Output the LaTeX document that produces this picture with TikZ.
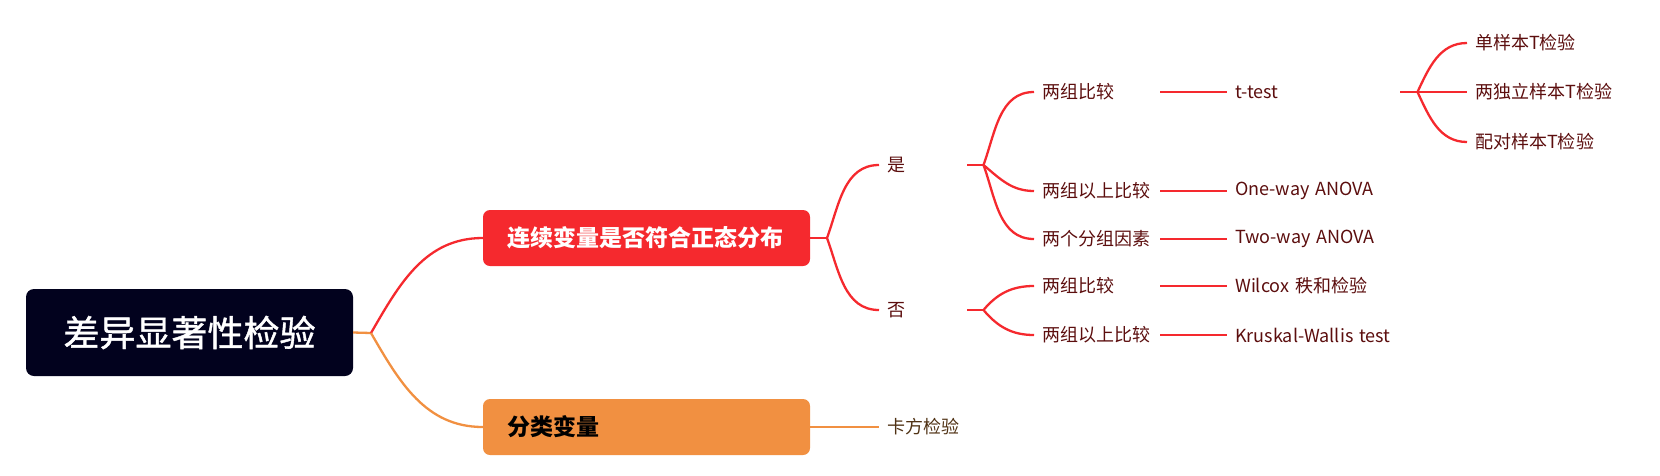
\documentclass[tikz,border=0pt]{standalone}
\usepackage{fontspec}
\setmainfont{Noto Sans CJK SC}
\usetikzlibrary{positioning,calc}

\definecolor{rootcol}{RGB}{2,2,30}
\definecolor{redcol}{RGB}{245,41,46}
\definecolor{orangecol}{RGB}{241,144,65}
\definecolor{redtext}{RGB}{92,14,14}
\definecolor{orangetext}{RGB}{80,50,20}

\tikzset{
  rootbox/.style={fill=rootcol,rounded corners=8pt,text=white,minimum width=327pt,
    minimum height=87pt,font=\fontsize{36}{40}\selectfont\addfontfeatures{FakeBold=1.2}},
  mainbox/.style={rounded corners=7pt,text width=279pt,inner xsep=24pt,
    minimum height=56pt,align=left,font=\bfseries\fontsize{23}{26}\selectfont},
  leaf/.style={anchor=west,inner xsep=8pt,align=left,font=\fontsize{18}{20}\selectfont},
  redline/.style={draw=redcol,line width=2.3pt},
  orangeline/.style={draw=orangecol,line width=2.3pt},
}

\begin{document}
\begin{tikzpicture}[x=1pt,y=-1pt]
      \useasboundingbox (0,0) rectangle (1660,475);

      \coordinate (j0) at (371,333);
      \coordinate (j1) at (827,238);
      \coordinate (j2) at (983.5,165);
      \coordinate (j3) at (983.5,310);
      \coordinate (j4) at (1417.5,92);

      \node[rootbox] (root) at (189.5,332.5) {差异显著性检验};
      \node[mainbox,fill=redcol,text=white] (cont) at (646.5,238) {连续变量是否符合正态分布};
      \node[mainbox,fill=orangecol,text=black] (cat) at (646.5,427) {分类变量};

      \draw[orangeline] (root.east) -- (j0);
      \draw[redline] (j0) to[out=60,in=180] (cont.west);
      \draw[orangeline] (j0) to[out=-60,in=180] (cat.west);

      \node[leaf,text=redtext,text width=72pt] (yes) at (879,165) {是};
      \node[leaf,text=redtext,text width=72pt] (no) at (879,310) {否};
      \node[leaf,text=orangetext] (chi) at (879,427) {卡方检验};

      \draw[redline] (cont.east) -- (j1);
      \draw[redline] (j1) to[out=70,in=180] (yes.west);
      \draw[redline] (j1) to[out=-70,in=180] (no.west);
      \draw[orangeline] (cat.east) -- (chi.west);

      \node[leaf,text=redtext,text width=110pt] (y1) at (1034,92) {两组比较};
      \node[leaf,text=redtext,text width=110pt] (y2) at (1034,191) {两组以上比较};
      \node[leaf,text=redtext,text width=110pt] (y3) at (1034,239) {两个分组因素};
      \node[leaf,text=redtext,text width=110pt] (n1) at (1034,286) {两组比较};
      \node[leaf,text=redtext,text width=110pt] (n2) at (1034,335) {两组以上比较};

      \draw[redline] (yes.east) -- (j2);
      \draw[redline] (j2) to[out=70,in=180] (y1.west);
      \draw[redline] (j2) to[out=-40,in=180] (y2.west);
      \draw[redline] (j2) to[out=-70,in=180] (y3.west);
      \draw[redline] (no.east) -- (j3);
      \draw[redline] (j3) to[out=50,in=180] (n1.west);
      \draw[redline] (j3) to[out=-50,in=180] (n2.west);

      \node[leaf,text=redtext,text width=157pt] (tt) at (1227,92) {t-test};
      \node[leaf,text=redtext,text width=157pt] (ow) at (1227,191) {One-way ANOVA};
      \node[leaf,text=redtext,text width=157pt] (tw) at (1227,239) {Two-way ANOVA};
      \node[leaf,text=redtext,text width=157pt] (wc) at (1227,286) {Wilcox 秩和检验};
      \node[leaf,text=redtext,text width=157pt] (kw) at (1227,335) {Kruskal-Wallis test};

      \draw[redline] (y1.east) -- (tt.west);
      \draw[redline] (y2.east) -- (ow.west);
      \draw[redline] (y3.east) -- (tw.west);
      \draw[redline] (n1.east) -- (wc.west);
      \draw[redline] (n2.east) -- (kw.west);

      \node[leaf,text=redtext] (t1) at (1467,43) {单样本T检验};
      \node[leaf,text=redtext] (t2) at (1467,92) {两独立样本T检验};
      \node[leaf,text=redtext] (t3) at (1467,142) {配对样本T检验};

      \draw[redline] (tt.east) -- (j4);
      \draw[redline] (j4) to[out=65,in=180] (t1.west);
      \draw[redline] (j4) -- (t2.west);
      \draw[redline] (j4) to[out=-65,in=180] (t3.west);

    \end{tikzpicture}
\end{document}
